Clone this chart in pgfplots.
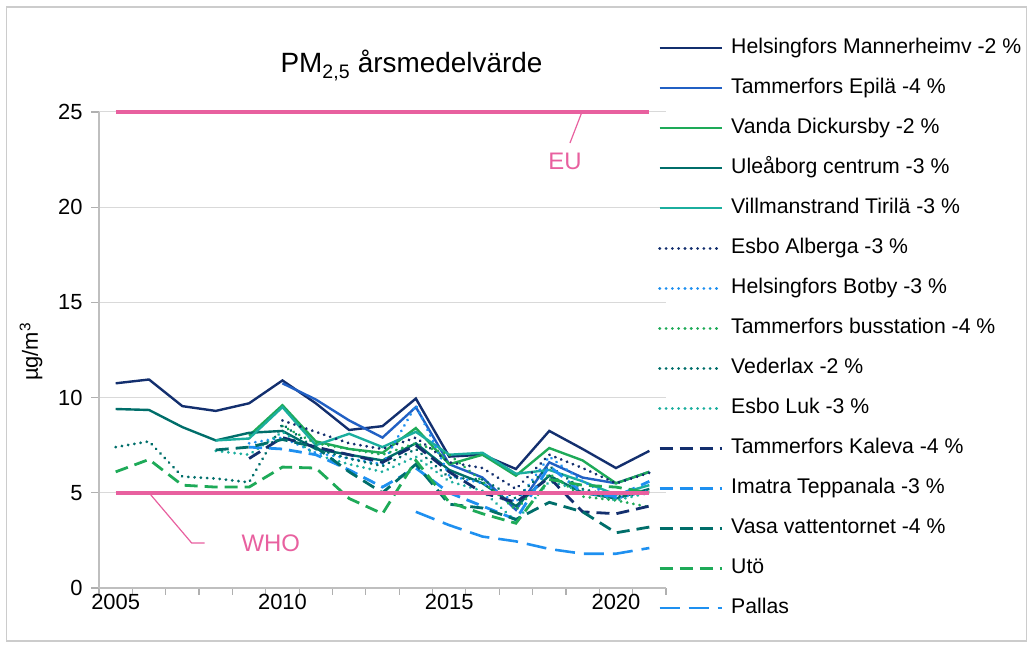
\documentclass[border=0pt]{standalone}
\usepackage{pgfplots}
\pgfplotsset{compat=1.18}
\usepackage{fontspec}
\setmainfont{Liberation Sans}
\definecolor{navy}{HTML}{132F6E}
\definecolor{mblue}{HTML}{2160C4}
\definecolor{mgreen}{HTML}{1EAA58}
\definecolor{dteal}{HTML}{006E6A}
\definecolor{turq}{HTML}{1BAE9E}
\definecolor{lblue}{HTML}{1E90F0}
\definecolor{pinkc}{HTML}{E8609F}
\definecolor{gridc}{HTML}{D9D9D9}
\definecolor{axc}{HTML}{BFBFBF}
\definecolor{tickc}{HTML}{B0B0B0}
\tikzset{
  solidS/.style={line width=2.4bp},
  dotS/.style={line width=3bp, line cap=round, dash pattern=on 0.1bp off 6.2bp},
  dashS/.style={line width=2.8bp, dash pattern=on 13bp off 7bp},
  ldashS/.style={line width=2.6bp, dash pattern=on 20bp off 9bp},
}
\begin{document}
\begin{tikzpicture}[x=1bp,y=1bp]
\path (0,0) rectangle (1031,648);
\draw[axc!80, line width=1.2bp] (6.5,7) rectangle (1026.5,641);
\node[anchor=base, font=\fontsize{28}{32}\selectfont] at (411.5,575) {PM\textsubscript{2,5} årsmedelvärde};
\begin{axis}[
  at={(99bp,60bp)}, anchor=south west,
  width=567bp, height=476bp, scale only axis,
  xmin=2004.5, xmax=2021.5, ymin=0, ymax=25,
  clip=false,
  axis x line*=bottom, axis y line*=left,
  axis line style={axc, line width=1.2bp},
  tick align=outside, major tick length=8bp, minor tick length=7bp,
  tick style={tickc, line width=1.2bp},
  ytick={0,5,10,15,20,25},
  ymajorgrids, grid style={gridc, line width=1bp},
  xtick={2005,2010,2015,2020},
  xticklabels={2005,2010,2015,2020},
  minor xtick={2004.5,2005.5,2006.5,2007.5,2008.5,2009.5,2010.5,2011.5,2012.5,2013.5,2014.5,2015.5,2016.5,2017.5,2018.5,2019.5,2020.5,2021.5},
  major x tick style={draw=none},
  xticklabel style={yshift=5bp},
  /pgf/number format/assume math mode=true,
  ticklabel style={font=\fontsize{22}{26}\selectfont},
  yticklabel style={xshift=-5bp},
  ylabel={µg/m\textsuperscript{3}},
  every axis y label/.style={at={(axis description cs:-0.12,0.496)}, rotate=90, anchor=center, font=\fontsize{22}{26}\selectfont},
  legend cell align=left,
  legend style={at={(axis description cs:0.9859,1.1555)}, anchor=north west, draw=none, fill=none,
    font=\fontsize{21.3}{25}\selectfont, inner sep=0pt, row sep=20bp,
    nodes={inner sep=0pt, text height=15bp, text depth=5bp},
    /tikz/every odd column/.append style={column sep=8bp}},
  legend image code/.code={\draw[#1] (0bp,0bp) -- (62bp,0bp);},
]
\addplot[navy, solidS] coordinates {(2005,10.75)(2006,10.95)(2007,9.55)(2008,9.3)(2009,9.7)(2010,10.9)(2011,9.7)(2012,8.3)(2013,8.5)(2014,9.95)(2015,6.9)(2016,7.0)(2017,6.25)(2018,8.25)(2019,7.3)(2020,6.3)(2021,7.2)};
\addlegendentry{Helsingfors Mannerheimv -2 \%}
\addplot[mblue, solidS] coordinates {(2010,10.75)(2011,9.9)(2012,8.8)(2013,7.9)(2014,9.5)(2015,6.5)(2016,5.8)(2017,4.1)(2018,6.6)(2019,5.8)(2020,5.5)(2021,6.1)};
\addlegendentry{Tammerfors Epilä -4 \%}
\addplot[mgreen, solidS] coordinates {(2009,8.0)(2010,9.6)(2011,7.7)(2012,7.3)(2013,7.1)(2014,8.4)(2015,6.5)(2016,7.0)(2017,5.9)(2018,7.35)(2019,6.7)(2020,5.5)(2021,6.1)};
\addlegendentry{Vanda Dickursby -2 \%}
\addplot[dteal, solidS] coordinates {(2005,9.4)(2006,9.35)(2007,8.45)(2008,7.75)(2009,8.15)(2010,8.25)(2011,7.3)(2012,7.0)(2013,6.7)(2014,7.6)(2015,6.2)(2016,5.5)(2017,4.3)(2018,5.9)(2019,5.0)(2020,4.7)(2021,5.2)};
\addlegendentry{Uleåborg centrum -3 \%}
\addplot[turq, solidS] coordinates {(2008,7.75)(2009,7.85)(2010,9.5)(2011,7.5)(2012,8.1)(2013,7.4)(2014,8.2)(2015,7.0)(2016,7.1)(2017,6.0)(2018,6.2)(2019,5.6)(2020,4.9)(2021,5.4)};
\addlegendentry{Villmanstrand Tirilä -3 \%}
\addplot[navy, dotS] coordinates {(2010,8.8)(2011,8.2)(2012,7.6)(2013,7.3)(2014,7.9)(2015,6.6)(2016,6.3)(2017,5.2)(2018,7.0)(2019,6.3)(2020,5.5)(2021,6.05)};
\addlegendentry{Esbo Alberga -3 \%}
\addplot[lblue, dotS] coordinates {(2009,7.6)(2010,7.9)(2011,7.1)(2012,6.8)(2013,6.5)(2014,9.6)(2015,5.9)(2016,5.5)(2017,4.5)(2018,6.9)(2019,5.6)(2020,4.7)(2021,5.1)};
\addlegendentry{Helsingfors Botby -3 \%}
\addplot[mgreen, dotS] coordinates {(2010,8.5)(2011,7.6)(2012,7.3)(2013,7.0)(2014,7.6)(2015,7.0)(2016,5.6)(2017,4.1)(2018,6.0)(2019,4.8)(2020,4.6)(2021,4.25)};
\addlegendentry{Tammerfors busstation -4 \%}
\addplot[dteal, dotS] coordinates {(2005,7.4)(2006,7.7)(2007,5.85)(2008,5.75)(2009,5.55)(2010,8.6)(2011,7.3)(2012,6.8)(2013,6.4)(2014,7.3)(2015,5.8)(2016,5.7)(2017,4.7)(2018,6.4)(2019,5.2)(2020,4.8)(2021,5.0)};
\addlegendentry{Vederlax -2 \%}
\addplot[turq, dotS] coordinates {(2008,7.2)(2009,7.0)(2010,8.2)(2011,7.0)(2012,6.5)(2013,6.1)(2014,6.9)(2015,5.6)(2016,5.1)(2017,3.5)(2018,5.6)(2019,5.1)(2020,4.6)(2021,5.0)};
\addlegendentry{Esbo Luk -3 \%}
\addplot[navy, dashS] coordinates {(2009,6.8)(2010,7.9)(2011,7.4)(2012,7.0)(2013,6.6)(2014,7.5)(2015,6.1)(2016,5.0)(2017,4.5)(2018,5.8)(2019,4.0)(2020,3.9)(2021,4.3)};
\addlegendentry{Tammerfors Kaleva -4 \%}
\addplot[lblue, dashS] coordinates {(2009,7.4)(2010,7.3)(2011,7.0)(2012,6.2)(2013,5.3)(2014,6.3)(2015,5.0)(2016,4.3)(2017,3.6)(2018,6.4)(2019,5.0)(2020,4.8)(2021,5.6)};
\addlegendentry{Imatra Teppanala -3 \%}
\addplot[dteal, dashS] coordinates {(2008,7.25)(2009,7.4)(2010,7.8)(2011,7.4)(2012,6.1)(2013,5.0)(2014,6.5)(2015,4.4)(2016,4.2)(2017,3.6)(2018,4.5)(2019,4.0)(2020,2.9)(2021,3.2)};
\addlegendentry{Vasa vattentornet -4 \%}
\addplot[mgreen, dashS] coordinates {(2005,6.1)(2006,6.75)(2007,5.4)(2008,5.3)(2009,5.3)(2010,6.35)(2011,6.3)(2012,4.7)(2013,3.9)(2014,6.7)(2015,4.5)(2016,3.9)(2017,3.4)(2018,5.7)(2019,5.4)(2020,5.3)(2021,5.0)};
\addlegendentry{Utö}
\addplot[lblue, ldashS] coordinates {(2014,4.0)(2015,3.3)(2016,2.7)(2017,2.45)(2018,2.05)(2019,1.8)(2020,1.8)(2021,2.1)};
\addlegendentry{Pallas}
\addplot[pinkc, line width=4.5bp, forget plot] coordinates {(2005,25)(2021,25)};
\addplot[pinkc, line width=4.5bp, forget plot] coordinates {(2005,5)(2021,5)};
\draw[pinkc, line width=1.2bp] (axis cs:2006,5) -- (axis cs:2007.28,2.36) -- (axis cs:2007.67,2.36);
\node[pinkc, font=\fontsize{24}{28}\selectfont] at (axis cs:2009.65,2.36) {WHO};
\draw[pinkc, line width=1.2bp] (axis cs:2018.62,23.37) -- (axis cs:2018.98,25);
\node[pinkc, font=\fontsize{24}{28}\selectfont] at (axis cs:2018.47,22.43) {EU};
\end{axis}
\end{tikzpicture}
\end{document}
